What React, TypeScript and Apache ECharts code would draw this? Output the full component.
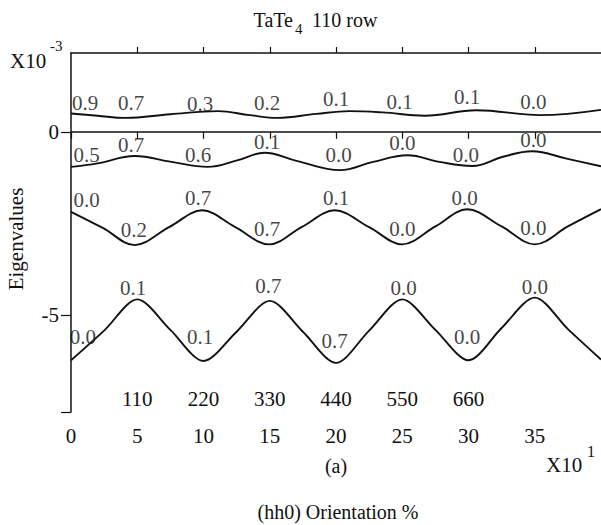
import React, { useEffect, useRef } from "react";
import * as echarts from "echarts";

// ---- data ----
const X_MIN = 0;
const X_MAX = 40;
const Y_MIN = -7.64;
const Y_MAX = 2.15;

const xTickValues = [0, 5, 10, 15, 20, 25, 30, 35];
const topTickValues = [5, 10, 15, 20, 25, 30, 35];
const secondaryPositions = [5, 10, 15, 20, 25, 30];
const secondaryLabels = ["110", "220", "330", "440", "550", "660"];
const yLabelValues = [-5, 0];
const yTickValues = [Y_MIN, -5, 0];

const curve1: number[][] = [
  [0, 0.5], [2, 0.44], [4.1, 0.38], [7.5, 0.48], [11.1, 0.565], [13.5, 0.455],
  [15.6, 0.38], [18.5, 0.49], [21, 0.565], [23.5, 0.53], [26.7, 0.44],
  [30.6, 0.59], [35.4, 0.455], [40, 0.6],
];
const curve2: number[][] = [
  [0, -0.955], [2, -0.86], [4.8, -0.66], [7.6, -0.82], [10.3, -0.955],
  [12.6, -0.77], [14.6, -0.57], [17.1, -0.8], [20.3, -1.045], [22.8, -0.82],
  [25.4, -0.64], [27.8, -0.82], [30.3, -0.93], [32.6, -0.68], [34.8, -0.53],
  [37.4, -0.73], [40, -0.94],
];
const curve3: number[][] = [
  [0, -2.18], [2.4, -2.62], [4.8, -3.09], [7.4, -2.6], [9.9, -2.14],
  [12.4, -2.6], [14.95, -3.07], [17.4, -2.6], [19.9, -2.14], [22.5, -2.6],
  [25, -3.07], [27.5, -2.58], [29.9, -2.11], [32.5, -2.58], [35, -3.07],
  [37.5, -2.58], [40, -2.11],
];
const curve4: number[][] = [
  [0, -6.23], [2.5, -5.42], [5, -4.57], [7.5, -5.4], [10, -6.25],
  [12.5, -5.45], [15, -4.61], [17.5, -5.45], [20, -6.3],
  [22.5, -5.42], [25, -4.57], [27.5, -5.4], [30, -6.23],
  [32.5, -5.35], [35, -4.52], [37.5, -5.38], [40, -6.21],
];

const notesRow1: [number, number, string][] = [
  [1.06, 0.78, "0.9"], [4.53, 0.78, "0.7"], [9.74, 0.76, "0.3"], [14.8, 0.78, "0.2"],
  [20.0, 0.89, "0.1"], [24.8, 0.81, "0.1"], [29.9, 0.95, "0.1"], [34.9, 0.81, "0.0"],
];
const notesRow2: [number, number, string][] = [
  [1.17, -0.64, "0.5"], [4.53, -0.36, "0.7"], [9.6, -0.64, "0.6"], [14.8, -0.28, "0.1"],
  [20.2, -0.64, "0.0"], [25.0, -0.31, "0.0"], [29.8, -0.64, "0.0"], [34.9, -0.23, "0.0"],
];
const notesRow3: [number, number, string][] = [
  [1.17, -1.86, "0.0"], [9.6, -1.81, "0.7"], [20.0, -1.81, "0.1"], [29.7, -1.81, "0.0"],
  [4.75, -2.68, "0.2"], [14.8, -2.65, "0.7"], [25.0, -2.65, "0.0"], [34.9, -2.62, "0.0"],
];
const notesRow4: [number, number, string][] = [
  [4.68, -4.26, "0.1"], [14.9, -4.21, "0.7"], [25.1, -4.26, "0.0"], [35.0, -4.23, "0.0"],
  [0.9, -5.6, "0.0"], [9.74, -5.6, "0.1"], [19.9, -5.71, "0.7"], [29.9, -5.6, "0.0"],
];

const FONT = "'Liberation Serif', 'Times New Roman', serif";
const INK = "#111";
const FS = 21;

export default function App() {
  const ref = useRef<HTMLDivElement>(null);
  useEffect(() => {
    if (!ref.current) return;
    const chart = echarts.init(ref.current, undefined, { renderer: "svg" });
    const notes = [...notesRow1, ...notesRow2, ...notesRow3, ...notesRow4];
    const curves = [curve1, curve2, curve3, curve4];
    const smooths = [0.4, 0.4, 0.35, 0.3];
    const lineSeries = curves.map((c, i) => ({
      type: "line",
      data: c,
      symbol: "none",
      smooth: smooths[i],
      lineStyle: { color: INK, width: 1.9 },
      xAxisIndex: 0,
      yAxisIndex: 0,
      z: 3,
    }));
    chart.setOption({
      animation: false,
      backgroundColor: "#fff",
      textStyle: { fontFamily: FONT, color: INK },
      grid: { left: 71, right: 0, top: 53, bottom: 113, containLabel: false },
      xAxis: [
        {
          type: "value",
          min: X_MIN,
          max: X_MAX,
          position: "bottom",
          axisLine: { show: true, lineStyle: { color: INK, width: 1.5 } },
          axisTick: { show: true, length: 7, customValues: xTickValues, lineStyle: { color: INK, width: 1.2 } },
          axisLabel: { customValues: xTickValues, margin: 13, fontSize: FS, fontFamily: FONT, color: INK },
          splitLine: { show: false },
        },
        {
          type: "value",
          min: X_MIN,
          max: X_MAX,
          position: "top",
          axisLine: { show: true, lineStyle: { color: INK, width: 1.5 } },
          axisTick: { show: true, length: 6, customValues: topTickValues, lineStyle: { color: INK, width: 1.2 } },
          axisLabel: { show: false },
          splitLine: { show: false },
        },
        {
          type: "value",
          min: X_MIN,
          max: X_MAX,
          position: "bottom",
          axisLine: { show: false },
          axisTick: { show: false },
          axisLabel: {
            inside: true,
            margin: 3,
            customValues: secondaryPositions,
            formatter: (v: number) => {
              const i = secondaryPositions.indexOf(v);
              return i >= 0 ? secondaryLabels[i] : "";
            },
            fontSize: FS,
            fontFamily: FONT,
            color: INK,
          },
          splitLine: { show: false },
        },
      ],
      yAxis: [
        {
          type: "value",
          min: Y_MIN,
          max: Y_MAX,
          position: "left",
          axisLine: { show: true, lineStyle: { color: INK, width: 1.5 } },
          axisTick: { show: true, length: 10, customValues: yTickValues, lineStyle: { color: INK, width: 1.2 } },
          axisLabel: { customValues: yLabelValues, margin: 12, fontSize: FS, fontFamily: FONT, color: INK },
          splitLine: { show: false },
        },
      ],
      series: [
        ...lineSeries,
        {
          type: "scatter",
          symbolSize: 0,
          data: notes.map((n) => ({ value: [n[0], n[1]], name: n[2] })),
          label: {
            show: true,
            position: "inside",
            formatter: "{b}",
            fontSize: FS,
            fontFamily: FONT,
            color: INK,
          },
          z: 4,
        },
      ],
      graphic: [
        { type: "text", x: 293, y: 20, style: { text: "TaTe", font: `20px ${FONT}`, fill: INK, textAlign: "right", textVerticalAlign: "middle" } },
        { type: "text", x: 295, y: 29, style: { text: "4", font: `15px ${FONT}`, fill: INK, textAlign: "left", textVerticalAlign: "middle" } },
        { type: "text", x: 312, y: 20, style: { text: "110 row", font: `20px ${FONT}`, fill: INK, textAlign: "left", textVerticalAlign: "middle" } },
        { type: "text", x: 10, y: 61, style: { text: "X10", font: `21px ${FONT}`, fill: INK, textAlign: "left", textVerticalAlign: "middle" } },
        { type: "text", x: 50, y: 46, style: { text: "-3", font: `15px ${FONT}`, fill: INK, textAlign: "left", textVerticalAlign: "middle" } },
        { type: "text", x: 16, y: 239, rotation: Math.PI / 2, style: { text: "Eigenvalues", font: `21px ${FONT}`, fill: INK, textAlign: "center", textVerticalAlign: "middle" } },
        { type: "text", x: 546, y: 465, style: { text: "X10", font: `21px ${FONT}`, fill: INK, textAlign: "left", textVerticalAlign: "middle" } },
        { type: "text", x: 587, y: 451, style: { text: "1", font: `16px ${FONT}`, fill: INK, textAlign: "left", textVerticalAlign: "middle" } },
        { type: "text", x: 336, y: 466, style: { text: "(a)", font: `20px ${FONT}`, fill: INK, textAlign: "center", textVerticalAlign: "middle" } },
        { type: "text", x: 338, y: 512, style: { text: "(hh0) Orientation %", font: `20px ${FONT}`, fill: INK, textAlign: "center", textVerticalAlign: "middle" } },
      ],
    });
    return () => chart.dispose();
  }, []);
  return (
    <div
      ref={ref}
      style={{ position: "fixed", left: 0, top: 0, width: 601, height: 525, background: "#fff" }}
    />
  );
}
